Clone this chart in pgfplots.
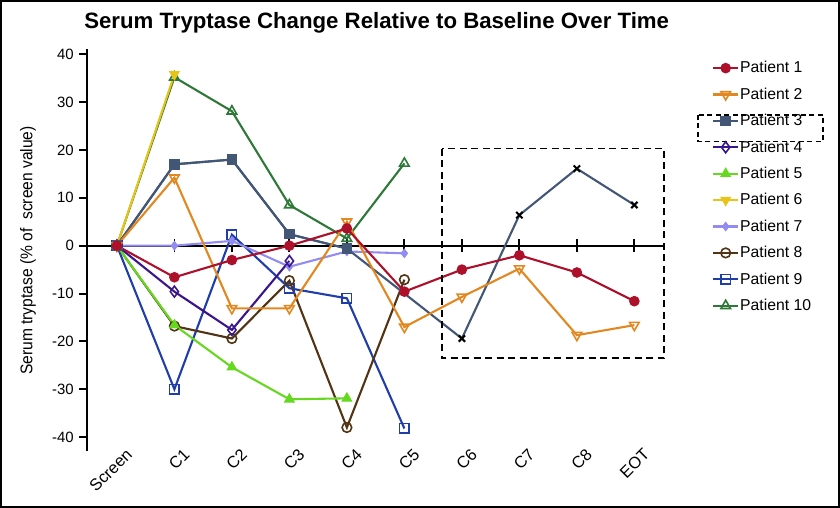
\documentclass[border=0pt]{standalone}
\usepackage{pgfplots}
\pgfplotsset{compat=1.18}
\usepackage{fontspec}
\setmainfont{Liberation Sans}
\newfontfamily\narrowfont[FakeStretch=0.92]{Liberation Sans}

\definecolor{pone}{RGB}{172,16,42}
\definecolor{ptwo}{RGB}{226,136,32}
\definecolor{pthree}{RGB}{66,86,118}
\definecolor{pfour}{RGB}{58,22,140}
\definecolor{pfive}{RGB}{102,216,32}
\definecolor{psix}{RGB}{232,196,24}
\definecolor{pseven}{RGB}{146,140,240}
\definecolor{peight}{RGB}{82,52,20}
\definecolor{pnine}{RGB}{32,62,170}
\definecolor{pten}{RGB}{46,120,56}

\tikzset{pl/.style={line width=2.1bp}}

\begin{document}
\begin{tikzpicture}
\begin{axis}[
  scale only axis, width=577.3bp, height=402bp,
  xmin=-0.52, xmax=9.52, ymin=-43, ymax=41,
  clip=false,
  axis y line*=left,
  axis x line*=bottom,
  x axis line style={draw=none},
  y axis line style={line width=2.2bp, black},
  xtick={0,...,9},
  xticklabels={Screen,C1,C2,C3,C4,C5,C6,C7,C8,EOT},
  x tick style={draw=none},
  ytick={-40,-30,...,40},
  y tick style={line width=2bp, black},
  tick align=outside,
  major tick length=8bp,
  /pgf/number format/assume math mode=true,
  yticklabel style={font=\fontsize{15}{18}\selectfont, inner xsep=5bp},
  xticklabel style={font=\fontsize{16.5}{19}\selectfont, xshift=8bp, yshift=12bp, rotate=45, anchor=north east, inner sep=0pt},
  ylabel={Serum tryptase (\% of\ \ screen value)},
  ylabel style={at={(rel axis cs:-0.1022,0.5)}, anchor=center, font=\narrowfont\fontsize{17}{20}\selectfont},
  title={Serum Tryptase Change Relative to Baseline Over Time},
  title style={at={(rel axis cs:0.5018,1.038)}, anchor=base, font=\bfseries\fontsize{22.3}{26}\selectfont},
  reverse legend,
  legend cell align=left,
  legend style={at={(rel axis cs:1.0826,0.977)}, anchor=north west, draw=none, fill=none,
    font=\fontsize{15.8}{19}\selectfont, inner sep=0pt, row sep=0pt,
    nodes={inner xsep=1bp, inner ysep=0pt, text height=14bp, text depth=12.4bp}},
  legend image code/.code={\draw[mark repeat=2,mark phase=2,yshift=4bp,#1] plot coordinates {(0bp,0bp)(12.5bp,0bp)(25bp,0bp)};},
]
\draw[line width=2bp] (axis cs:-0.52,0) -- (axis cs:9.52,0);
\pgfplotsinvokeforeach{1,...,9}{\draw[line width=1.8bp] (axis cs:#1,-1.4) -- (axis cs:#1,1.4);}

\addplot[pl, pten, mark=triangle, mark size=5.5bp, mark options={fill=white, line width=1.6bp}]
  coordinates {(0,0)(1,35.2)(2,28.1)(3,8.5)(4,1.5)(5,17.2)};
\addplot[pl, pnine, mark=square, mark size=4.8bp, mark options={fill=white, line width=1.6bp}]
  coordinates {(0,0)(1,-30.0)(2,2.3)(3,-8.9)(4,-11.0)(5,-38.2)};
\addplot[pl, peight, mark=o, mark size=4.8bp, mark options={fill=white, line width=1.6bp}]
  coordinates {(0,0)(1,-16.8)(2,-19.4)(3,-7.3)(4,-38.0)(5,-7.1)};
\addplot[pl, pseven, mark=diamond*, mark size=4.2bp, mark options={line width=1bp}]
  coordinates {(0,0)(1,0)(2,1.0)(3,-4.4)(4,-1.2)(5,-1.6)};
\addplot[pl, psix, mark=triangle*, mark size=5.5bp, mark options={rotate=180, line width=1bp}]
  coordinates {(0,0)(1,35.8)};
\addplot[pl, pfive, mark=triangle*, mark size=5.5bp, mark options={line width=1bp}]
  coordinates {(0,0)(1,-16.6)(2,-25.4)(3,-32.1)(4,-31.9)};
\addplot[pl, pfour, mark=diamond, mark size=5.5bp, mark options={fill=white, line width=1.6bp}]
  coordinates {(0,0)(1,-9.6)(2,-17.6)(3,-3.2)};
\addplot[pl, pthree, no marks, forget plot]
  coordinates {(0,0)(1,17.0)(2,18.0)(3,2.4)(4,-0.6)(6,-19.4)(7,6.4)(8,16.1)(9,8.5)};
\addplot[only marks, black, mark=x, mark size=4.5bp, mark options={line width=2bp}, forget plot]
  coordinates {(6,-19.4)(7,6.4)(8,16.1)(9,8.5)};
\addplot[pl, pthree, mark=square*, mark size=4.8bp, mark options={line width=1bp}]
  coordinates {(0,0)(1,17.0)(2,18.0)(3,2.4)(4,-0.6)};
\addplot[pl, ptwo, mark=triangle, mark size=5.5bp, mark options={rotate=180, fill=white, line width=1.6bp}]
  coordinates {(0,0)(1,14.2)(2,-13.1)(3,-13.1)(4,5.0)(5,-17.0)(6,-10.7)(7,-4.8)(8,-18.7)(9,-16.6)};
\addplot[pl, pone, mark=*, mark size=4.8bp, mark options={line width=1bp}]
  coordinates {(0,0)(1,-6.6)(2,-3.0)(3,0)(4,3.6)(5,-9.6)(6,-5.0)(7,-2.0)(8,-5.6)(9,-11.6)};

\legend{Patient 10,Patient 9,Patient 8,Patient 7,Patient 6,Patient 5,Patient 4,Patient 3,Patient 2,Patient 1}

\draw[dash pattern=on 7bp off 4.5bp, line width=1.8bp] (axis cs:5.65,20.3) rectangle (axis cs:9.52,-23.5);
\draw[dash pattern=on 5bp off 3.5bp, line width=1.6bp] (rel axis cs:1.0584,0.8373) rectangle (rel axis cs:1.2749,0.7709);
\draw[line width=2bp] (rel axis cs:-0.149,-0.1378) rectangle (rel axis cs:1.3027,1.1206);
\end{axis}
\end{tikzpicture}
\end{document}
